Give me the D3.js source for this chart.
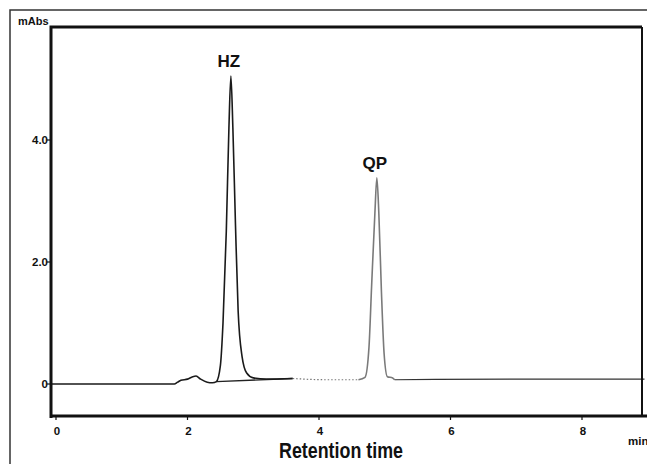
<!DOCTYPE html>
<html lang="en">
<head>
    <meta charset="UTF-8">
    <title>Chromatogram HZ / QP</title>
    <script src="https://d3js.org/d3.v7.min.js"></script>
    <style>
        body { margin: 0; background: #fff; overflow: hidden; }
        svg { display: block; background: #fff; }
        text { font-family: Arial, "Liberation Sans", sans-serif; font-weight: bold; fill: #111; }
    </style>
</head>
<body>
    <svg></svg>
    <script>
        // retention time (min) / absorbance (mAbs)
        const mainTime = [-0.07, 0, 1.8, 1.85, 1.9, 2.0, 2.08, 2.13, 2.2, 2.3, 2.38, 2.44, 2.5, 2.54, 2.59, 2.63, 2.66, 2.69, 2.73, 2.77, 2.83, 2.9, 3.0, 3.2, 3.6];
        const mainAbs  = [0, 0, 0, 0.03, 0.06, 0.08, 0.12, 0.13, 0.08, 0.03, 0.02, 0.04, 0.3, 1.0, 2.5, 4.2, 5.05, 4.2, 2.6, 1.2, 0.45, 0.18, 0.1, 0.08, 0.09];
        const dotTime = [3.6, 4.1, 4.6];
        const dotAbs  = [0.09, 0.07, 0.07];
        const qpTime = [4.6, 4.7, 4.76, 4.8, 4.85, 4.88, 4.91, 4.95, 4.99, 5.04, 5.12, 5.15];
        const qpAbs  = [0.07, 0.11, 0.6, 1.6, 2.8, 3.38, 2.8, 1.5, 0.5, 0.12, 0.1, 0.07];
        const tailTime = [5.15, 7.0, 8.95];
        const tailAbs  = [0.07, 0.08, 0.08];
        const baseTime = [2.44, 3.6];
        const baseAbs  = [0.04, 0.09];

        const xTicks = [0, 2, 4, 6, 8];
        const yTicks = [0, 2, 4];
        const yTickLabels = ["0", "2.0", "4.0"];
        const peakNames = ["HZ", "QP"];
        const peakTime = [2.66, 4.88];
        const peakAbs = [5.05, 3.38];

        const width = 647, height = 464;
        const box = { left: 51, right: 642, top: 27, bottom: 416 };

        const svg = d3.select("svg").attr("width", width).attr("height", height);

        const x = d3.scaleLinear().domain([0, 8]).range([56, 582]);
        const y = d3.scaleLinear().domain([0, 4]).range([384, 140]);

        // outer scan frame
        svg.append("path")
            .attr("d", "M10,470 L10,10 L660,10")
            .attr("fill", "none").attr("stroke", "#333").attr("stroke-width", 1.5);

        const line = d3.line()
            .x(d => x(d[0])).y(d => y(d[1]))
            .curve(d3.curveMonotoneX);
        const zip = (a, b) => a.map((t, i) => [t, b[i]]);

        svg.append("path").datum(zip(baseTime, baseAbs))
            .attr("d", d3.line().x(d => x(d[0])).y(d => y(d[1])))
            .attr("fill", "none").attr("stroke", "#222").attr("stroke-width", 1.3);

        svg.append("path").datum(zip(mainTime, mainAbs))
            .attr("d", line)
            .attr("fill", "none").attr("stroke", "#1a1a1a").attr("stroke-width", 1.6);

        svg.append("path").datum(zip(dotTime, dotAbs))
            .attr("d", line)
            .attr("fill", "none").attr("stroke", "#777").attr("stroke-width", 1.2)
            .attr("stroke-dasharray", "1.5,2");

        svg.append("path").datum(zip(qpTime, qpAbs))
            .attr("d", line)
            .attr("fill", "none").attr("stroke", "#7a7a7a").attr("stroke-width", 1.6);

        svg.append("path").datum(zip(tailTime, tailAbs))
            .attr("d", line)
            .attr("fill", "none").attr("stroke", "#333").attr("stroke-width", 1.2);

        // plot frame
        svg.append("path")
            .attr("d", `M${box.left},${box.bottom + 2} L${box.left},${box.top} L${box.right},${box.top}`)
            .attr("fill", "none").attr("stroke", "#111").attr("stroke-width", 3);
        svg.append("line")
            .attr("x1", box.right).attr("x2", box.right).attr("y1", box.top).attr("y2", box.bottom)
            .attr("stroke", "#111").attr("stroke-width", 2);
        svg.append("line")
            .attr("x1", box.left).attr("x2", width).attr("y1", box.bottom).attr("y2", box.bottom)
            .attr("stroke", "#111").attr("stroke-width", 3);

        // y axis ticks
        const yg = svg.append("g");
        yg.selectAll("line").data(yTicks).join("line")
            .attr("x1", box.left - 4).attr("x2", box.left)
            .attr("y1", d => y(d)).attr("y2", d => y(d))
            .attr("stroke", "#111").attr("stroke-width", 1.2);
        yg.selectAll("text").data(yTicks).join("text")
            .attr("x", box.left - 3).attr("y", d => y(d) + 4)
            .attr("text-anchor", "end").attr("font-size", 11.5)
            .text((d, i) => yTickLabels[i]);

        // x axis ticks
        const xg = svg.append("g");
        xg.selectAll("line").data(xTicks).join("line")
            .attr("x1", d => x(d)).attr("x2", d => x(d))
            .attr("y1", box.bottom).attr("y2", box.bottom + 4)
            .attr("stroke", "#111").attr("stroke-width", 1.2);
        xg.selectAll("text").data(xTicks).join("text")
            .attr("x", d => x(d) + 1).attr("y", 435)
            .attr("text-anchor", "middle").attr("font-size", 11.5)
            .text(d => d);

        // peak labels
        svg.selectAll(".peak").data(peakNames).join("text")
            .attr("class", "peak")
            .attr("x", (d, i) => x(peakTime[i]) - 2)
            .attr("y", (d, i) => y(peakAbs[i]) - 9)
            .attr("text-anchor", "middle").attr("font-size", 17)
            .text(d => d);

        svg.append("text").attr("x", 18).attr("y", 25).attr("font-size", 11).text("mAbs");
        svg.append("text").attr("x", 628).attr("y", 445).attr("font-size", 11.5).text("min");
        svg.append("text").attr("x", 279).attr("y", 458)
            .attr("font-size", 22)
            .attr("textLength", 124)
            .attr("lengthAdjust", "spacingAndGlyphs")
            .text("Retention time");
    </script>
</body>
</html>
